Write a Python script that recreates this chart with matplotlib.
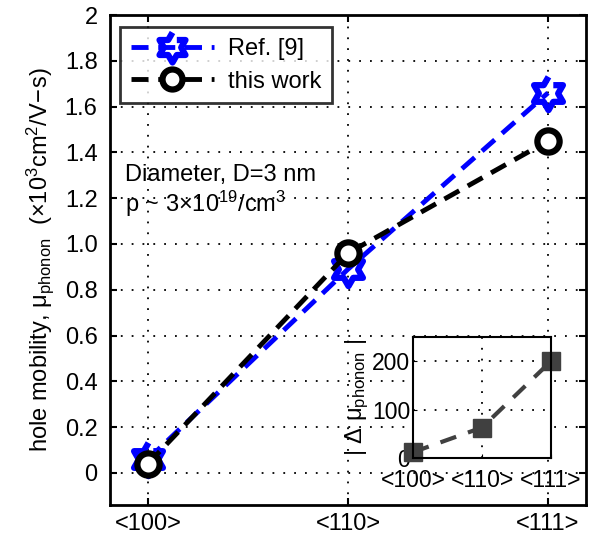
import numpy as np
import matplotlib.pyplot as plt

plt.rcParams['font.family'] = ['Liberation Sans', 'DejaVu Sans']
plt.rcParams['mathtext.fontset'] = 'custom'
plt.rcParams['mathtext.rm'] = 'Liberation Sans'
plt.rcParams['mathtext.it'] = 'Liberation Sans:italic'

# Datos
orient = ['<100>', '<110>', '<111>']
ref9 = [0.06, 0.89, 1.66]
this_work = [0.04, 0.96, 1.45]
delta_mu = [12, 63, 200]

x = np.arange(1, len(orient) + 1)

# hexagrama (estrella de 6 puntas, como el marcador 'h' de MATLAB)
ang = np.pi / 2 + np.arange(12) * np.pi / 6
rad = np.where(np.arange(12) % 2 == 0, 1.0, 0.577)
hexagram = list(zip(rad * np.cos(ang), rad * np.sin(ang)))

fs = 17

fig = plt.figure(figsize=(5.89, 5.35), dpi=100)
ax = fig.add_axes([110/589, 1 - 505/535, 476/589, 490/535])

ax.plot(x, ref9, color='blue', ls='--', lw=3.5, dashes=(3.5, 2),
        marker=hexagram, ms=24, mfc='none', mec='blue', mew=4.5, label='Ref. [9]')
ax.plot(x, this_work, color='black', ls='--', lw=3.5, dashes=(3.5, 2),
        marker='o', ms=16, mfc='white', mec='black', mew=4.5, label='this work')

ax.set_xlim(0.81, 3.19)
ax.set_ylim(-0.14, 2)
ax.set_xticks(x)
ax.set_xticklabels(orient)
ax.set_yticks(np.arange(0, 2.01, 0.2))
ax.set_yticklabels(['0', '0.2', '0.4', '0.6', '0.8', '1.0', '1.2', '1.4', '1.6', '1.8', '2'])
ax.tick_params(direction='in', labelsize=fs, length=5, width=1.5, top=True, right=True, pad=9)
ax.tick_params(axis='x', pad=6)
ax.grid(True, color='black', ls=(0, (1, 5)), lw=1.3)
for s in ax.spines.values():
    s.set_linewidth(2)
ax.set_ylabel(r'hole mobility, $\mathregular{\mu_{phonon}}$  ($\mathregular{\times10^3cm^2/V\!-\!s}$)',
              fontsize=fs, labelpad=6)

leg = ax.legend(loc='upper left', bbox_to_anchor=(0.022, 0.975), fontsize=fs, frameon=True,
                fancybox=False, edgecolor='black', handlelength=3.5, borderaxespad=0.0,
                labelspacing=0.45, borderpad=0.45, handletextpad=0.6)
leg.get_frame().set_linewidth(2)
for h in leg.legend_handles:
    h.set_markersize(h.get_markersize() * 0.9)

ax.text(0.885, 1.276, 'Diameter, D=3 nm', fontsize=fs, va='baseline')
ax.text(0.885, 1.14, r'p ~ 3$\mathregular{\times10^{19}/cm^3}$', fontsize=fs, va='baseline')

# Inset
axi = fig.add_axes([413/589, 1 - 458/535, 138/589, 121/535])
axi.plot(x, delta_mu, color='#404040', ls='--', lw=3, dashes=(4, 3),
         marker='s', ms=13, mfc='#404040', mec='#404040', clip_on=False)
axi.set_xlim(1, 3)
axi.set_ylim(0, 250)
axi.set_xticks(x)
axi.set_xticklabels(orient)
axi.set_yticks([0, 100, 200])
axi.tick_params(direction='in', labelsize=fs - 0.5, length=3, pad=2)
axi.tick_params(axis='x', pad=8)
axi.grid(True, color='black', ls=(0, (1, 5)), lw=1.3)
for s in axi.spines.values():
    s.set_linewidth(1.5)
axi.set_ylabel(r'| $\mathregular{\Delta}$ $\mathregular{\mu_{phonon}}$ |', fontsize=fs, labelpad=1)

fig.savefig('out.png', dpi=100)
